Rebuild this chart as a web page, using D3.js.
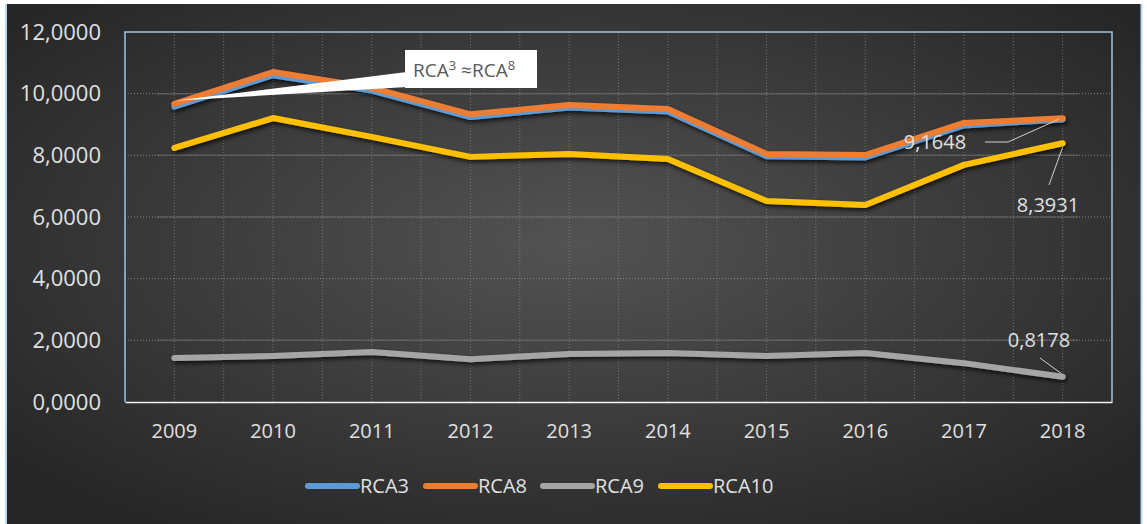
<!DOCTYPE html>
<html>
<head>
<meta charset="utf-8">
<script src="https://cdn.jsdelivr.net/npm/d3@7"></script>
<style>
  html, body { margin: 0; padding: 0; background: #ffffff; }
  svg { display: block; font-family: "Open Sans", "DejaVu Sans", sans-serif; }
</style>
</head>
<body>
<svg id="chart" width="1147" height="524"></svg>
<script>
// Years on the category axis
const years = ["2009", "2010", "2011", "2012", "2013", "2014", "2015", "2016", "2017", "2018"];

// Revealed comparative advantage indices per year
const rca3  = [9.58, 10.60, 10.10, 9.24, 9.55, 9.42, 7.97, 7.93, 8.97, 9.1648];
const rca8  = [9.67, 10.70, 10.19, 9.33, 9.63, 9.50, 8.04, 8.01, 9.05, 9.20];
const rca9  = [1.43, 1.49, 1.62, 1.39, 1.56, 1.59, 1.49, 1.59, 1.26, 0.8178];
const rca10 = [8.24, 9.21, 8.60, 7.95, 8.04, 7.88, 6.52, 6.39, 7.69, 8.3931];

const seriesNames  = ["RCA3", "RCA8", "RCA9", "RCA10"];
const seriesValues = [rca3, rca8, rca9, rca10];
const seriesColors = ["#5b9bd5", "#ed7d31", "#a5a5a5", "#ffc000"];

const yTicks = [0, 2, 4, 6, 8, 10, 12];
const fmt = v => d3.format(".4f")(v).replace(".", ",");

const svg = d3.select("#chart");
const defs = svg.append("defs");

// Dark radial background
const bg = defs.append("radialGradient").attr("id", "bgGrad")
  .attr("cx", "50%").attr("cy", "45%").attr("r", "65%");
bg.append("stop").attr("offset", "0%").attr("stop-color", "#535353");
bg.append("stop").attr("offset", "100%").attr("stop-color", "#262626");

// Soft drop shadow beneath the lines
const sh = defs.append("filter").attr("id", "shadow")
  .attr("x", "-10%").attr("y", "-30%").attr("width", "120%").attr("height", "160%");
sh.append("feDropShadow").attr("dx", 1.5).attr("dy", 2.5).attr("stdDeviation", 2)
  .attr("flood-color", "#000").attr("flood-opacity", 0.75);

// Chart area
svg.append("rect").attr("x", 7).attr("y", 4).attr("width", 1134).attr("height", 530)
  .attr("fill", "url(#bgGrad)");
svg.append("line").attr("x1", 6).attr("x2", 6).attr("y1", 4).attr("y2", 524)
  .attr("stroke", "#bdd7ee").attr("stroke-width", 2);
svg.append("line").attr("x1", 1141.5).attr("x2", 1141.5).attr("y1", 4).attr("y2", 524)
  .attr("stroke", "#bdd7ee").attr("stroke-width", 2);

const plot = { left: 125, right: 1112, top: 32, bottom: 402 };

const x = d3.scaleBand().domain(years).range([plot.left, plot.right]);
const xc = d => x(d) + x.bandwidth() / 2;
const y = d3.scaleLinear().domain([0, 12]).range([plot.bottom, plot.top]);

// Vertical dotted gridlines at category centres and boundaries
const g = svg.append("g");
const vlines = [];
years.forEach((yr, i) => {
  vlines.push(xc(yr));
  if (i > 0) vlines.push(x(yr));
});
g.selectAll(".vgrid").data(vlines).join("line")
  .attr("x1", d => d).attr("x2", d => d)
  .attr("y1", plot.top).attr("y2", plot.bottom)
  .attr("stroke", "#8a8a8a").attr("stroke-width", 1)
  .attr("stroke-dasharray", "1,2").attr("opacity", 0.7);

// Horizontal gridlines
g.selectAll(".hgrid").data(yTicks.slice(1, -1)).join("line")
  .attr("x1", plot.left).attr("x2", plot.right)
  .attr("y1", d => y(d)).attr("y2", d => y(d))
  .attr("stroke", "#9a9a9a").attr("stroke-width", 1)
  .attr("stroke-dasharray", "1,2").attr("opacity", 0.8);
g.selectAll(".hband").data([2, 6, 8, 10]).join("line")
  .attr("x1", 157).attr("x2", 1078)
  .attr("y1", d => y(d)).attr("y2", d => y(d))
  .attr("stroke", "#6a6a6a").attr("stroke-width", 1.5).attr("opacity", 0.6);

// Plot frame
svg.append("path")
  .attr("d", `M${plot.left},${plot.bottom}V${plot.top}H${plot.right}V${plot.bottom}`)
  .attr("fill", "none").attr("stroke", "#9dc3e6").attr("stroke-width", 1.5);

// Axes
const yAxis = svg.append("g").attr("transform", `translate(${plot.left},0)`)
  .call(d3.axisLeft(y).tickValues(yTicks).tickFormat(fmt).tickSize(0).tickPadding(24));
yAxis.select(".domain").remove();
yAxis.selectAll("text").attr("fill", "#e0e0e0").style("font-size", "22px")
  .style("font-family", "'Open Sans', sans-serif");

const xAxis = svg.append("g").attr("transform", `translate(0,${plot.bottom})`)
  .call(d3.axisBottom(x).tickSize(0).tickPadding(22));
xAxis.select(".domain").attr("stroke", "#f2f2f2").attr("stroke-width", 1.5);
xAxis.selectAll("text").attr("fill", "#e0e0e0").style("font-size", "20px")
  .style("font-family", "'Open Sans', sans-serif");

// Series lines
const line = d3.line().x((d, i) => xc(years[i])).y(d => y(d));
const lines = svg.append("g").attr("filter", "url(#shadow)");
// Draw order: RCA10, RCA9, RCA3, RCA8 (RCA8 sits over RCA3)
[3, 2, 0, 1].forEach(k => {
  lines.append("path").datum(seriesValues[k])
    .attr("d", line)
    .attr("fill", "none")
    .attr("stroke", seriesColors[k])
    .attr("stroke-width", 6)
    .attr("stroke-linecap", "round")
    .attr("stroke-linejoin", "round");
});

// Callout RCA3 ≈ RCA8 pointing at the first point
const px = xc(years[0]), py = y(rca8[0]);
const box = { x: 405, y: 50, w: 132, h: 38 };
svg.append("path")
  .attr("d", `M${box.x + 2},${box.y + 22}L${px},${py - 3}L${box.x + 2},${box.y + 37}Z`)
  .attr("fill", "#ffffff");
svg.append("rect").attr("x", box.x).attr("y", box.y).attr("width", box.w).attr("height", box.h)
  .attr("fill", "#ffffff");
const ct = svg.append("text").attr("x", box.x + 8).attr("y", box.y + 27)
  .attr("fill", "#595959").style("font-size", "19px");
ct.append("tspan").text("RCA");
ct.append("tspan").text("3").attr("dy", -7).style("font-size", "13px");
ct.append("tspan").text(" \u2248RCA").attr("dy", 7);
ct.append("tspan").text("8").attr("dy", -7).style("font-size", "13px");

// Value labels at the last year
const last = years.length - 1;
const lx = xc(years[last]);
const labels = [
  { v: rca3[last], tx: 935, ty: 149, lead: [[985, 142], [1008, 142], [lx - 4, y(rca8[last]) + 1]] },
  { v: rca10[last], tx: 1048, ty: 212, lead: [[1049, 185], [lx, y(rca10[last]) + 4]] },
  { v: rca9[last], tx: 1039, ty: 347, lead: [[1040, 358], [lx - 1, y(rca9[last]) - 3]] }
];
labels.forEach(l => {
  svg.append("path").attr("d", d3.line()(l.lead))
    .attr("fill", "none").attr("stroke", "#d0d0d0").attr("stroke-width", 1);
  svg.append("text").attr("x", l.tx).attr("y", l.ty).attr("text-anchor", "middle")
    .attr("fill", "#e0e0e0").style("font-size", "20px").text(fmt(l.v));
});

// Legend
const legendX = [308, 426, 543, 661];
const lg = svg.append("g");
seriesNames.forEach((name, i) => {
  lg.append("line").attr("x1", legendX[i]).attr("x2", legendX[i] + 49)
    .attr("y1", 486).attr("y2", 486)
    .attr("stroke", seriesColors[i]).attr("stroke-width", 6).attr("stroke-linecap", "round");
  lg.append("text").attr("x", legendX[i] + 52).attr("y", 493)
    .attr("fill", "#e0e0e0").style("font-size", "20px").text(name);
});
</script>
</body>
</html>
